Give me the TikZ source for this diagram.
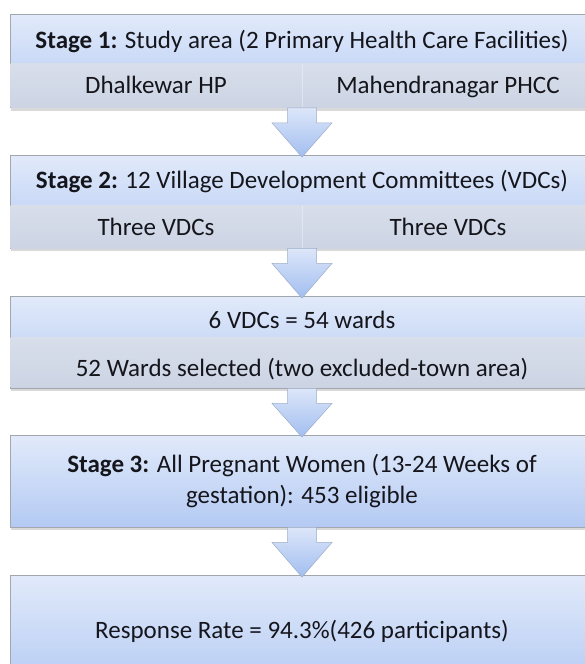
\documentclass[tikz,border=0pt]{standalone}
\usepackage{fontspec}
\setmainfont{Carlito}
\usetikzlibrary{shadows,calc}
\definecolor{boxline}{HTML}{A2A6AD}
\definecolor{bandtop}{HTML}{E1EAFA}
\definecolor{bandbot}{HTML}{B4CAF3}
\definecolor{lowtop}{HTML}{D8DEEA}
\definecolor{lowbot}{HTML}{CCD4E4}
\definecolor{arrtop}{HTML}{DCE6F9}
\definecolor{arrbot}{HTML}{A2BEF0}
\definecolor{arrline}{HTML}{9CADC9}
\definecolor{ink}{HTML}{15151C}
\newcommand\stg[1]{\textbf{Stage #1:}}
\newcommand\flowarrow[2]{%
	\path[flow] let \p1=(#1.south), \p2=(#2.north) in
		(\x1-14.5pt,\y1) -- (\x1-14.5pt,\y1-15pt) -- (\x1-30pt,\y1-15pt) -- (\x1,\y2-2.5pt)
		-- (\x1+30pt,\y1-15pt) -- (\x1+14.5pt,\y1-15pt) -- (\x1+14.5pt,\y1) -- cycle;}

\tikzset{
	stagebox/.style={draw=boxline, line width=0.8pt, top color=bandtop, bottom color=bandbot, minimum width=584pt, inner sep=0pt,
		drop shadow={shadow xshift=1pt, shadow yshift=-3pt, opacity=0.3}},
	lowband/.style={top color=lowtop, bottom color=lowbot, minimum width=583pt, inner sep=0pt},
	celldiv/.style={draw=white, opacity=0.35, line width=0.8pt},
	flow/.style={draw=arrline, line width=0.5pt, top color=arrtop, bottom color=arrbot},
	txt/.style={text=ink, font=\fontsize{25}{30.5}\selectfont, inner sep=0pt, anchor=base}
}

\begin{document}
\begin{tikzpicture}[x=1pt,y=-1pt]
	\useasboundingbox (0,0) rectangle (585,664);
	\clip (0,0) rectangle (585,664);

	\node[stagebox, minimum height=93pt] (st1) at (302,61) {};
	\node[lowband, minimum height=43.5pt] (st1low) at (302,85.5) {};
	\draw[celldiv] (st1low.north) -- (st1low.south);
	\node[txt] (st1top) at (302,48) {\stg{1} Study area (2 Primary Health Care Facilities)};
	\node[txt] (st1l) at (156,93.5) {Dhalkewar HP};
	\node[txt] (st1r) at (448,93.5) {Mahendranagar PHCC};

	\node[stagebox, minimum height=93pt] (st2) at (302,201.5) {};
	\node[lowband, minimum height=43pt] (st2low) at (302,226.5) {};
	\draw[celldiv] (st2low.north) -- (st2low.south);
	\node[txt] (st2top) at (302,188) {\stg{2} 12 Village Development Committees (VDCs)};
	\node[txt] (st2l) at (156,235) {Three VDCs};
	\node[txt] (st2r) at (448,235) {Three VDCs};

	\node[stagebox, minimum height=92pt] (wd) at (302,342) {};
	\node[lowband, minimum height=50.5pt] (wdlow) at (302,362.5) {};
	\node[txt] (wdtop) at (302,328) {6 VDCs = 54 wards};
	\node[txt] (wdsel) at (302,376) {52 Wards selected (two excluded-town area)};

	\node[stagebox, minimum height=92pt] (st3) at (302,481) {};
	\node[txt, align=center] (st3txt) at (302,503) {\stg{3} All Pregnant Women (13-24 Weeks of\\gestation): 453 eligible};

	\node[stagebox, minimum height=115pt] (resp) at (302,632.5) {};
	\node[txt] (resptxt) at (302,638) {Response Rate = 94.3\%(426 participants)};

	\flowarrow{st1}{st2}
	\flowarrow{st2}{wd}
	\flowarrow{wd}{st3}
	\flowarrow{st3}{resp}
\end{tikzpicture}
\end{document}
